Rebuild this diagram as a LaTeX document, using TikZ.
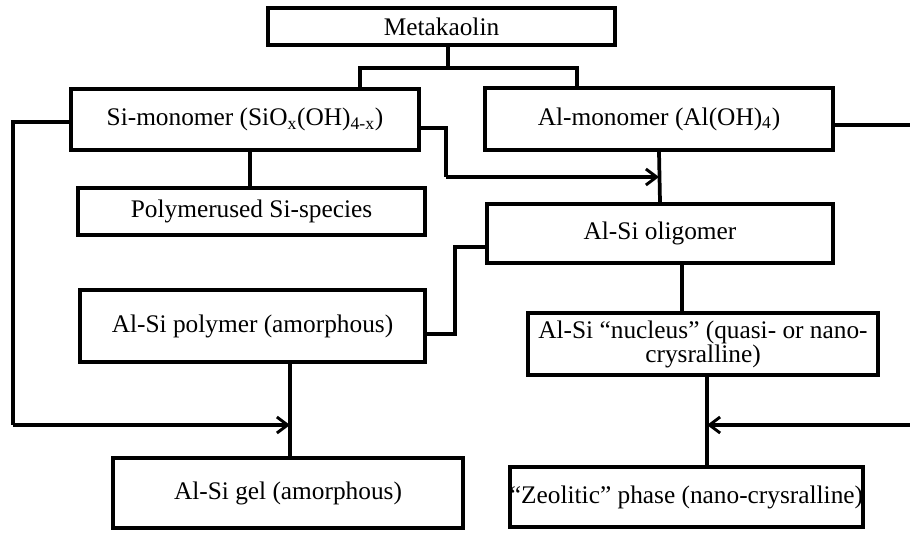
\documentclass[tikz,border=0pt]{standalone}
\usepackage{fontspec}
\setmainfont{Liberation Serif}
\usetikzlibrary{arrows.meta}
\begin{document}
\begin{tikzpicture}[x=0.75pt,y=-0.75pt,
  box/.style={draw=black,line width=2.8pt,fill=white,inner sep=0pt,align=center,
    font=\fontsize{19}{18}\selectfont},
  conn/.style={line width=2.8pt,draw=black},
  arr/.style={conn,-{Straight Barb[length=8pt,width=12pt,line width=2.2pt]}}]
\useasboundingbox (0,0) rectangle (910,532);
\clip (0,0) rectangle (910,532);
% boxes
\node[box,minimum width=347*0.75pt,minimum height=37*0.75pt] (meta) at (441.5,26.5) {Metakaolin};
\node[box,minimum width=348*0.75pt,minimum height=61*0.75pt] (simono) at (245,119.5) {Si-monomer (SiO\textsubscript{x}(OH)\textsubscript{4-x})};
\node[box,minimum width=348*0.75pt,minimum height=62*0.75pt] (almono) at (659,119) {Al-monomer (Al(OH)\textsubscript{4})};
\node[box,minimum width=347*0.75pt,minimum height=47*0.75pt] (polysi) at (251.5,211.5) {Polymerused Si-species};
\node[box,minimum width=346*0.75pt,minimum height=59*0.75pt] (olig) at (660,233.5) {Al-Si oligomer};
\node[box,minimum width=345*0.75pt,minimum height=72*0.75pt] (polym) at (252.5,326) {Al-Si polymer (amorphous)};
\node[box,minimum width=350*0.75pt,minimum height=62*0.75pt] (nucl) at (703,344) {Al-Si “nucleus” (quasi- or nano-\\crysralline)};
\node[box,minimum width=350*0.75pt,minimum height=70*0.75pt] (gel) at (288,493) {Al-Si gel (amorphous)};
\node[box,minimum width=347*0.75pt,minimum height=60*0.75pt] (zeol) at (686.5,497) {“Zeolitic” phase (nano-crysralline)};
% junction coordinates
\coordinate (jm) at (448,68);
\coordinate (jl) at (360,68);
\coordinate (jr) at (577,68);
\coordinate (l1) at (13,122);
\coordinate (l2) at (13,425);
\coordinate (ga) at (290,425);
\coordinate (m1) at (446,128);
\coordinate (m2) at (446,177);
\coordinate (aa) at (659,177);
\coordinate (r1) at (916,125);
\coordinate (r2) at (916,425);
\coordinate (za) at (707,425);
\coordinate (p1) at (455,334);
\coordinate (p2) at (455,247);
% connectors
\draw[conn] (meta.south -| jm) -- (jm);
\draw[conn] (simono.north -| jl) -- (jl) -- (jr) -- (almono.north -| jr);
\draw[conn] (simono.west |- l1) -- (l1) -- (l2);
\draw[arr] (l2) -- (ga);
\draw[conn] (simono.east |- m1) -- (m1) -- (m2);
\draw[arr] (m2) -- (aa);
\draw[conn] (almono.south) -- (olig.north);
\draw[conn] (almono.east |- r1) -- (r1) -- (r2);
\draw[arr] (r2) -- (za);
\draw[conn] (simono.south -| 250,0) -- (polysi.north -| 250,0);
\draw[conn] (polym.east |- p1) -- (p1) -- (p2) -- (olig.west |- p2);
\draw[conn] (polym.south -| ga) -- (gel.north -| ga);
\draw[conn] (olig.south -| 682,0) -- (nucl.north -| 682,0);
\draw[conn] (nucl.south -| za) -- (zeol.north -| za);
\end{tikzpicture}
\end{document}
